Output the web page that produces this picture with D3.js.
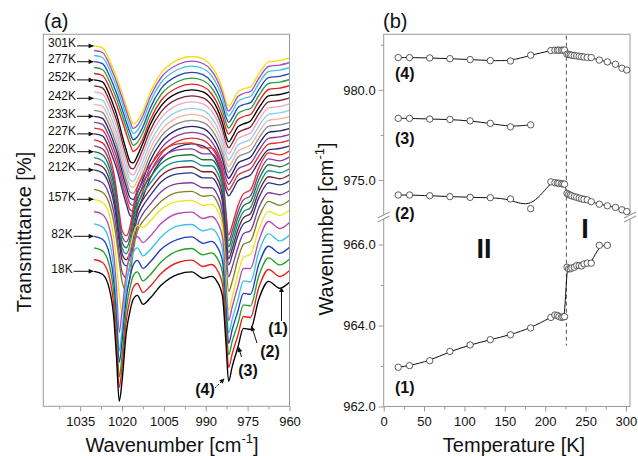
<!DOCTYPE html>
<html><head><meta charset="utf-8">
<script src="https://cdn.jsdelivr.net/npm/d3@7"></script>
<style>
body{margin:0;background:#fff}
svg{display:block}
text{font-family:"Liberation Sans",Arial,Helvetica,sans-serif;fill:#111}
</style>
</head><body>
<svg id="c" width="638" height="456"></svg>
<script>
// ---------------- DATA ----------------
// Panel (a): spectra temperatures (K), bottom -> top
const specTemps = [18,32,57,82,107,132,157,182,207,212,215,217,220,222,224,227,229,231,233,236,239,242,245,248,252,257,267,277,287,295,301];
const specColors = ["#000000","#e8201c","#22a022","#1f3fbf","#38c3e8","#b44bb8","#f2e21a","#808025","#7a3a9e","#2a3590","#7f1f2a","#16908e","#1a7a3a","#8e3a9a","#e0302a","#26307a","#e03030","#8a3aa0","#222266","#8c8c8c","#f5b59a","#8fd0f2","#f2a7c0","#7a2630","#000000","#e52020","#2aa040","#2546b8","#3ec4e6","#b04ab8","#f0e010"];
// transmittance level of each spectrum at 1030 cm-1 (arbitrary, offset units)
const specOffsets = [67.5,73.4,79.2,85,91.2,97.4,103.5,108.5,113.3,118.2,121.3,124.3,127.3,130.2,133.2,136.2,139.1,142,145,148,151,154,157.2,160.2,163.2,166.4,169.4,172.3,175.4,177.9,180.2];
// which band profile each spectrum follows
const specProfile = ["p18","p32","p57","p82","p107","p132","p157","p182","p207","pIIa","pIIa","pIIa","pIIa","pIIa","pIIa","pI2","pI2","pI2","pI2","pI2","pI2","pI2","pI2","pI2","pI2","pI","pI","pI","pI","pI","pI"];
// wavenumber grid (cm-1)
const waveGrid = [1030,1027,1024.5,1023,1022,1021,1020,1018.5,1017,1016,1014.5,1012.5,1010,1006,1000,995,991,988,986,984,982.8,981.8,980.5,978.5,976.5,974,971,967.5,963.5,960];
// absorption (drop below the 1030 cm-1 level) on the grid
const pI   = [0,1,7,12,15.5,19.5,23.5,30,36,39,37.5,32.5,23.5,13.5,7,5.3,6.5,10,14.5,21.5,27.5,30.3,28,23,21.5,20.5,14,8,7.3,6];
const pI2  = [0,1,7.5,13,17,22,27.5,35,41,41.5,38,31.5,22.5,13,6.5,5,6,9.5,14,21.5,28,31,28.5,23.5,22,20.5,14,8,7.3,6];
const pIIa = [0,1.5,8,16,25,36,45,48,42.5,34,24,18,13,6,2,1.5,4,4,7,16,35,47.5,42.5,33,27,25,14,6.5,7.5,5.5];
const p207 = [0,1.5,8,16,25,36.5,46,49,42,33,23,17,12.5,6,2,1.5,4,4,7,16,35.5,48.5,43.5,34,27,25.5,14,6.5,7.5,5.5];
const p182 = [0,1.5,7.5,16,25,36,46,50.5,42.5,31,21,16,12,6,1.5,1,3.5,3,6,15,36,51,46,35,27.5,26,14,6,8,5.5];
const p157 = [0,1.5,8,19,31,47.5,57,40,24,17.5,13,14,11,5,1,0.5,3,2.5,5,14,37.5,55.5,48.5,37.5,29,27.5,15,6,8,5.5];
const p132 = [0,1.5,8.5,21,37.5,60.5,50,31,20,15,12.5,15.5,12.5,6,1,0.3,3.5,2.5,5,13,36,54.5,47.5,37.5,28.5,28.5,14.5,5,8.5,5.5];
const p107 = [0,1.5,9,22,41,63.5,53,31,19.5,14.5,12,16,13,6.5,1,0.3,3.5,2.5,5,13,35,54.5,47.5,38,28.5,29,14,5,8.5,5.5];
const p82  = [0,1.5,9,22,41,63,52.5,31,19.5,14.5,12,16,13,6.5,1.5,0.3,3.5,2.5,5,12.5,34.5,53.5,46.5,37.5,28.5,29,14,5,8.5,5.5];
const p57  = [0,1.5,9,22.5,42,64.5,54,31,19,14,12,16.5,13.5,7,1.5,0.3,3.5,2.5,5,12.5,34.5,53.5,46.5,38,28.5,29,14,5,8.5,5.5];
const p32  = [0,1.5,9,22.5,42,64,54,31,19,14,12,16.5,13.5,7,1.5,0.3,3.5,2.5,5,12.5,34.5,54,47,38,28.5,29,14,5,8.5,5.5];
const p18  = [0,1.5,9,22.5,42.5,65,55,31,19,14,12,16.5,13.5,7,1.5,0.3,3.5,2.5,5,12.5,35,55,47.5,38,28.5,29,14,5,8.5,5.5];
const profiles = {pI,pI2,pIIa,p207,p182,p157,p132,p107,p82,p57,p32,p18};
// labelled spectra
const labelTemps = [301,277,252,242,233,227,220,212,157,82,18];
const xTicksA = [1035,1020,1005,990,975,960];
const xMinorA = [1042.5,1027.5,1012.5,997.5,982.5,967.5];

// Panel (b): band positions vs temperature
const tempsB = [18,32,57,82,107,132,157,182,207,212,215,217,220,222,224,227,229,231,233,236,239,242,245,248,252,257,267,277,287,295,301];
const band4 = [981.79,981.79,981.77,981.73,981.68,981.62,981.6,981.92,982.18,982.2,982.2,982.2,982.2,982.2,982.2,981.98,981.96,981.94,981.92,981.9,981.88,981.86,981.84,981.82,981.8,981.79,981.65,981.55,981.42,981.2,981.1];
const band3 = [978.42,978.42,978.38,978.36,978.28,978.14,977.95,978.06];
const band2 = [974.17,974.17,974.13,974.08,974.04,974.02,973.95,973.41,974.9,974.85,974.83,974.82,974.8,974.78,974.77,974.26,974.2,974.16,974.12,974.08,974.04,974.0,973.96,973.93,973.9,973.8,973.66,973.57,973.48,973.35,973.25];
const band1 = [962.97,963.01,963.13,963.36,963.52,963.65,963.77,963.94,964.2,964.26,964.25,964.22,964.2,964.21,964.22,965.44,965.4,965.4,965.42,965.44,965.48,965.48,965.47,965.52,965.54,965.54,965.98,965.98];
const transitionT = 226.2;
const yTicksUpper = [980,975], yMinorUpper = [982.5,977.5];
const yTicksLower = [966,964,962], yMinorLower = [965,963];
const xTicksB = [0,50,100,150,200,250,300], xMinorB = [25,75,125,175,225,275];

// ---------------- DRAW ----------------
const svg = d3.select("#c");
const axisCol = "#9a9a9a";
svg.append("defs").append("marker").attr("id","ah").attr("viewBox","0 0 10 10")
  .attr("refX",10).attr("refY",5).attr("markerWidth",7).attr("markerHeight",5)
  .attr("orient","auto").attr("markerUnits","userSpaceOnUse")
  .append("path").attr("d","M0,0L10,5L0,10z").attr("fill","#111");

// ===== Panel (a)
const A = {l:43.3, r:289.5, t:34.3, b:406.3};
const xA = d3.scaleLinear().domain([1048.2,960]).range([A.l,A.r]);
const yA = d3.scaleLinear().domain([0,186]).range([A.b,A.t]);
const lineA = d3.line().x(d=>xA(d[0])).y(d=>yA(d[1])).curve(d3.curveMonotoneX);
const gA = svg.append("g");
for (let i = specTemps.length-1; i >= 0; i--) {
  const prof = profiles[specProfile[i]];
  const pts = waveGrid.map((w,j)=>[w, specOffsets[i]-prof[j]]);
  gA.append("path").attr("d",lineA(pts)).attr("fill","none")
    .attr("stroke",specColors[i]).attr("stroke-width",1.35);
}
svg.append("rect").attr("x",A.l).attr("y",A.t).attr("width",A.r-A.l).attr("height",A.b-A.t)
  .attr("fill","none").attr("stroke",axisCol).attr("stroke-width",1);
const axA = svg.append("g").attr("transform",`translate(0,${A.b})`)
  .call(d3.axisBottom(xA).tickValues(xTicksA).tickSize(5).tickPadding(5).tickFormat(d3.format("d")));
const axA2 = svg.append("g").attr("transform",`translate(0,${A.b})`)
  .call(d3.axisBottom(xA).tickValues(xMinorA).tickSize(3).tickFormat(""));
[axA,axA2].forEach(g=>{g.select(".domain").remove();g.selectAll("line").attr("stroke",axisCol);
  g.selectAll("text").attr("font-size",13).attr("fill","#111").style("font-family","'Liberation Sans',Arial,sans-serif");});

// temperature labels with arrows
labelTemps.forEach(t=>{
  const i = specTemps.indexOf(t);
  const y = yA(specOffsets[i]);
  const tx = svg.append("text").attr("x",62).attr("y",y+1.5).attr("text-anchor","middle")
    .attr("font-size",12).text(t+"K");
  const w = tx.node().getComputedTextLength();
  svg.append("line").attr("x1",62+w/2+1).attr("x2",xA(1030)-0.5).attr("y1",y).attr("y2",y)
    .attr("stroke","#111").attr("stroke-width",1).attr("marker-end","url(#ah)");
});

// band labels (1)-(4)
const bandLbl = [
  {t:"(1)", x:278, y:334, ax1:281.5, ay1:321, ax2:281.5, ay2:287, dash:null},
  {t:"(2)", x:270, y:357, ax1:257, ay1:343, ax2:251.5, ay2:326, dash:null},
  {t:"(3)", x:248, y:376, ax1:241.5, ay1:357, ax2:238.5, ay2:347, dash:null},
  {t:"(4)", x:205, y:395, ax1:215, ay1:388, ax2:224.5, ay2:378.5, dash:"2,1.5"}
];
bandLbl.forEach(b=>{
  svg.append("text").attr("x",b.x).attr("y",b.y).attr("text-anchor","middle")
    .attr("font-size",16).attr("font-weight","bold").text(b.t);
  svg.append("line").attr("x1",b.ax1).attr("y1",b.ay1).attr("x2",b.ax2).attr("y2",b.ay2)
    .attr("stroke","#111").attr("stroke-width",1).attr("stroke-dasharray",b.dash).attr("marker-end","url(#ah)");
});

svg.append("text").attr("x",44).attr("y",28).attr("font-size",20).text("(a)");
const xlA = svg.append("text").attr("x",172).attr("y",452).attr("text-anchor","middle").attr("font-size",20);
xlA.append("tspan").text("Wavenumber [cm");
xlA.append("tspan").attr("font-size",13).attr("dy",-9).text("-1");
xlA.append("tspan").attr("dy",9).text("]");
svg.append("text").attr("transform","translate(31,232) rotate(-90)").attr("text-anchor","middle")
  .attr("font-size",20).text("Transmittance [%]");

// ===== Panel (b)
const B = {l:383.7, r:630, t:34.3, b:406.5, brk:217};
const xB = d3.scaleLinear().domain([0,305]).range([B.l,B.r]);
const yBU = d3.scaleLinear().domain([972.95,983.08]).range([B.brk,B.t]);
const yBL = d3.scaleLinear().domain([962,966.68]).range([B.b,B.brk]);

svg.append("rect").attr("x",B.l).attr("y",B.t).attr("width",B.r-B.l).attr("height",B.b-B.t)
  .attr("fill","none").attr("stroke",axisCol).attr("stroke-width",1);

// dashed transition line
svg.append("line").attr("x1",xB(transitionT)).attr("x2",xB(transitionT))
  .attr("y1",yBU(983.0)).attr("y2",yBL(963.5))
  .attr("stroke","#555").attr("stroke-width",1).attr("stroke-dasharray","4,3");

function series(vals, ys) {
  const pts = vals.map((v,i)=>[tempsB[i], v]);
  const ln = d3.line().x(d=>xB(d[0])).y(d=>ys(d[1])).curve(d3.curveBasis);
  svg.append("path").attr("d",ln(pts)).attr("fill","none").attr("stroke","#111").attr("stroke-width",1);
  svg.append("g").selectAll("circle").data(pts).join("circle")
    .attr("cx",d=>xB(d[0])).attr("cy",d=>ys(d[1])).attr("r",3.2)
    .attr("fill","#fff").attr("stroke","#333").attr("stroke-width",0.8);
}
series(band4, yBU);
series(band3, yBU);
series(band2, yBU);
series(band1, yBL);

function styleAx(g){g.select(".domain").remove();g.selectAll("line").attr("stroke",axisCol);
  g.selectAll("text").attr("font-size",13).attr("fill","#111").style("font-family","'Liberation Sans',Arial,sans-serif");}
const f1 = d3.format(".1f");
styleAx(svg.append("g").attr("transform",`translate(${B.l},0)`).call(d3.axisLeft(yBU).tickValues(yTicksUpper).tickSize(5).tickPadding(3).tickFormat(f1)));
styleAx(svg.append("g").attr("transform",`translate(${B.l},0)`).call(d3.axisLeft(yBU).tickValues(yMinorUpper).tickSize(3).tickFormat("")));
styleAx(svg.append("g").attr("transform",`translate(${B.l},0)`).call(d3.axisLeft(yBL).tickValues(yTicksLower).tickSize(5).tickPadding(3).tickFormat(f1)));
styleAx(svg.append("g").attr("transform",`translate(${B.l},0)`).call(d3.axisLeft(yBL).tickValues(yMinorLower).tickSize(3).tickFormat("")));
styleAx(svg.append("g").attr("transform",`translate(0,${B.b})`).call(d3.axisBottom(xB).tickValues(xTicksB).tickSize(5).tickPadding(5).tickFormat(d3.format("d"))));
styleAx(svg.append("g").attr("transform",`translate(0,${B.b})`).call(d3.axisBottom(xB).tickValues(xMinorB).tickSize(3).tickFormat("")));

// axis break marks
[B.l, B.r].forEach(x=>{
  svg.append("polygon").attr("points",`${x-6},${B.brk+1} ${x+6},${B.brk-5} ${x+6},${B.brk-1} ${x-6},${B.brk+5}`).attr("fill","#fff");
  svg.append("line").attr("x1",x-6).attr("y1",B.brk+1).attr("x2",x+6).attr("y2",B.brk-5).attr("stroke","#888").attr("stroke-width",1);
  svg.append("line").attr("x1",x-6).attr("y1",B.brk+5).attr("x2",x+6).attr("y2",B.brk-1).attr("stroke","#888").attr("stroke-width",1);
});

// series labels
[["(4)",73],["(3)",137.5],["(2)",212.5],["(1)",386.5]].forEach(([t,y])=>{
  svg.append("text").attr("x",395).attr("y",y+6).attr("font-size",16).attr("font-weight","bold").text(t);
});
svg.append("text").attr("x",484).attr("y",258).attr("text-anchor","middle").attr("font-size",27).attr("font-weight","bold").text("II");
svg.append("text").attr("x",585).attr("y",238).attr("text-anchor","middle").attr("font-size",27).attr("font-weight","bold").text("I");

svg.append("text").attr("x",383).attr("y",28).attr("font-size",20).text("(b)");
svg.append("text").attr("x",514).attr("y",452).attr("text-anchor","middle").attr("font-size",20).text("Temperature [K]");
const ylB = svg.append("text").attr("transform","translate(333,229) rotate(-90)").attr("text-anchor","middle").attr("font-size",20);
ylB.append("tspan").text("Wavenumber [cm");
ylB.append("tspan").attr("font-size",13).attr("dy",-9).text("-1");
ylB.append("tspan").attr("dy",9).text("]");
</script>
</body></html>
